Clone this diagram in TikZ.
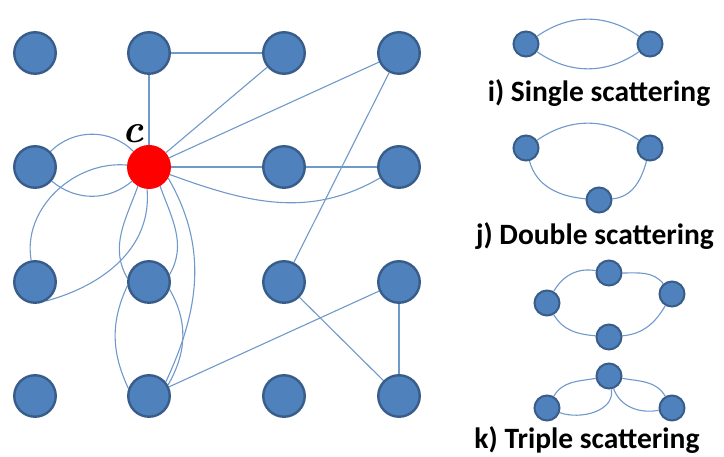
\documentclass[tikz,border=0pt]{standalone}
\usepackage{fontspec}
\newfontfamily\labfont{Carlito}
\usetikzlibrary{backgrounds}
\definecolor{nodefill}{HTML}{4F81BD}
\definecolor{nodeedge}{HTML}{385D8A}
\definecolor{edgec}{HTML}{6F98CB}
\begin{document}
\begin{tikzpicture}[x=1pt,y=1pt,
  gn/.style={circle,fill=nodefill,draw=nodeedge,line width=2.4pt,minimum size=41.5pt,inner sep=0pt},
  sn/.style={circle,fill=nodefill,draw=nodeedge,line width=2pt,minimum size=25pt,inner sep=0pt},
  rn/.style={circle,fill=red,minimum size=44pt,inner sep=0pt},
  ed/.style={draw=edgec,line width=1.1pt},
  lbl/.style={font=\labfont\bfseries\fontsize{29.5}{32}\selectfont,inner sep=0pt}]
\useasboundingbox (0,0) rectangle (724,457);
% grid
\node[gn] (n11) at (35,404) {};
\node[gn] (n12) at (149,404) {};
\node[gn] (n13) at (284,404) {};
\node[gn] (n14) at (399,404) {};
\node[gn] (n21) at (35,290) {};
\node[rn] (C)   at (149,290) {};
\node[gn] (n23) at (284,290) {};
\node[gn] (n24) at (399,290) {};
\node[gn] (n31) at (35,175) {};
\node[gn] (n32) at (149,175) {};
\node[gn] (n33) at (284,175) {};
\node[gn] (n34) at (399,175) {};
\node[gn] (n41) at (35,61) {};
\node[gn] (n42) at (149,61) {};
\node[gn] (n43) at (284,61) {};
\node[gn] (n44) at (399,61) {};
\node[font=\fontsize{40}{44}\selectfont\bfseries\itshape,inner sep=0pt] (clab) at (133,323) {c};
% small diagrams
\node[sn] (iA) at (526,413) {};
\node[sn] (iB) at (650,413) {};
\node[lbl] (ilab) at (599,364) {i) Single scattering};
\node[sn] (jA) at (526,309) {};
\node[sn] (jB) at (650,309) {};
\node[sn] (jC) at (599,257) {};
\node[lbl] (jlab) at (595,221) {j) Double scattering};
\node[sn] (kL) at (547,154) {};
\node[sn] (kT) at (609,184) {};
\node[sn] (kR) at (672,163) {};
\node[sn] (kB) at (609,120) {};
\node[sn] (mT) at (609,81) {};
\node[sn] (mL) at (547,49) {};
\node[sn] (mR) at (672,49) {};
\node[lbl] (klab) at (587,17) {k) Triple scattering};
\begin{scope}[on background layer]
\draw[ed] (n12) -- (n13);
\draw[ed] (n12) -- (C);
\draw[ed] (C) -- (n13);
\draw[ed] (C) -- (n14);
\draw[ed] (n14) -- (n33);
\draw[ed] (C) -- (n23);
\draw[ed] (n23) -- (n24);
\draw[ed] (C) to[out=-20,in=-150] (n24);
\draw[ed] (n21) to[out=45,in=135] (C);
\draw[ed] (n21) to[out=-40,in=-140] (C);
\draw[ed] (C) to[out=175,in=100] (n31);
\draw[ed] (n31.300) to[out=15,in=-85] (C.-95);
\draw[ed] (C.-120) to[out=-110,in=120] (n32.170);
\draw[ed] (C.-60) to[out=-70,in=60] (n32.20);
\draw[ed] (C.-30) to[out=-60,in=65] (n42.40);
\draw[ed] (n32.190) to[out=-115,in=115] (n42.160);
\draw[ed] (n32.-20) to[out=-60,in=60] (n42.30);
\draw[ed] (n42) -- (n34);
\draw[ed] (n33) -- (n44);
\draw[ed] (n34) -- (n44);
% small
\draw[ed] (iA) to[out=35,in=145] (iB);
\draw[ed] (iA) to[out=-35,in=-145] (iB);
\draw[ed] (jA) to[out=35,in=145] (jB);
\draw[ed] (jA) to[out=-75,in=175] (jC);
\draw[ed] (jC) to[out=5,in=-105] (jB);
\draw[ed] (kL) to[out=60,in=170] (kT);
\draw[ed] (kT) to[out=0,in=130] (kR);
\draw[ed] (kR) to[out=-120,in=5] (kB);
\draw[ed] (kB) to[out=175,in=-60] (kL);
\draw[ed] (mT) to[out=190,in=60] (mL);
\draw[ed] (mT) to[out=-80,in=-20] (mL);
\draw[ed] (mT) to[out=-10,in=120] (mR);
\draw[ed] (mT) to[out=-70,in=190] (mR);
\end{scope}
\end{tikzpicture}
\end{document}
